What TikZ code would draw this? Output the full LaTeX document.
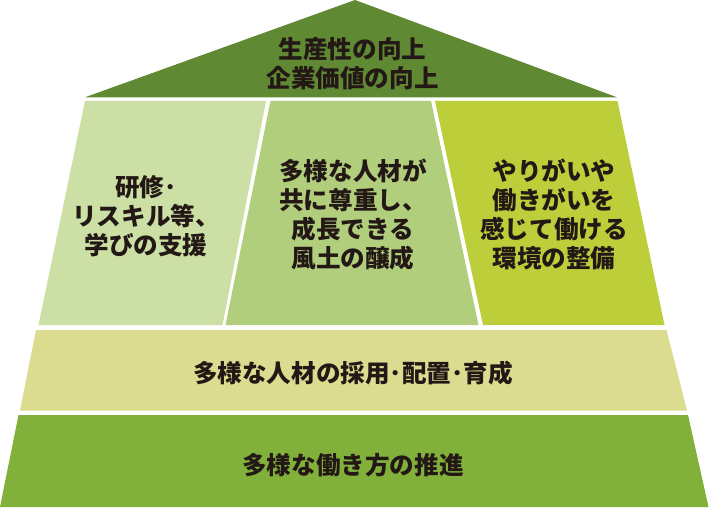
\documentclass[tikz,border=0pt]{standalone}
\usepackage{fontspec}
\setmainfont{Noto Sans CJK JP}
\definecolor{roofc}{HTML}{5F8A33}
\definecolor{colA}{HTML}{CCDFA4}
\definecolor{colB}{HTML}{B1CE7D}
\definecolor{colC}{HTML}{BCCE3A}
\definecolor{bandA}{HTML}{DCDC90}
\definecolor{bandB}{HTML}{81B13B}
\definecolor{txt}{HTML}{231815}
\tikzset{
  lbl/.style={text=txt, align=center, font=\fontsize{24.6}{28.8}\selectfont\bfseries, inner sep=0pt}
}
\begin{document}
\begin{tikzpicture}[x=1pt,y=-1pt]
\useasboundingbox (0,0) rectangle (710,508);
\fill[white] (0,0) rectangle (710,508);
% roof
\fill[roofc] (85,97.3) -- (355,0) -- (617,97.3) -- cycle;
% columns
\fill[colA] (85,101) -- (266,101) -- (222.5,325) -- (38.5,325) -- cycle;
\fill[colB] (270.5,101) -- (431,101) -- (478.5,325) -- (225.5,325) -- cycle;
\fill[colC] (435,101) -- (617.5,101) -- (664.5,325) -- (483,325) -- cycle;
% bands
\fill[bandA] (36,330) -- (666.5,330) -- (687,410.5) -- (20,410.5) -- cycle;
\fill[bandB] (18.5,415) -- (688,415) -- (708.5,507) -- (0,507) -- cycle;
% texts
\node[lbl] (roof) at (352.5,63.5) {生産性の向上\\企業価値の向上};
\node[lbl] (c1) at (146,216) {研修･\\リスキル等、\\学びの支援};
\node[lbl] (c2) at (353,214.5) {多様な人材が\\共に尊重し、\\成長できる\\風土の醸成};
\node[lbl] (c3) at (554,214.5) {やりがいや\\働きがいを\\感じて働ける\\環境の整備};
\node[lbl] (b1) at (353,373) {多様な人材の採用･配置･育成};
\node[lbl] (b2) at (353,465) {多様な働き方の推進};
\end{tikzpicture}
\end{document}
